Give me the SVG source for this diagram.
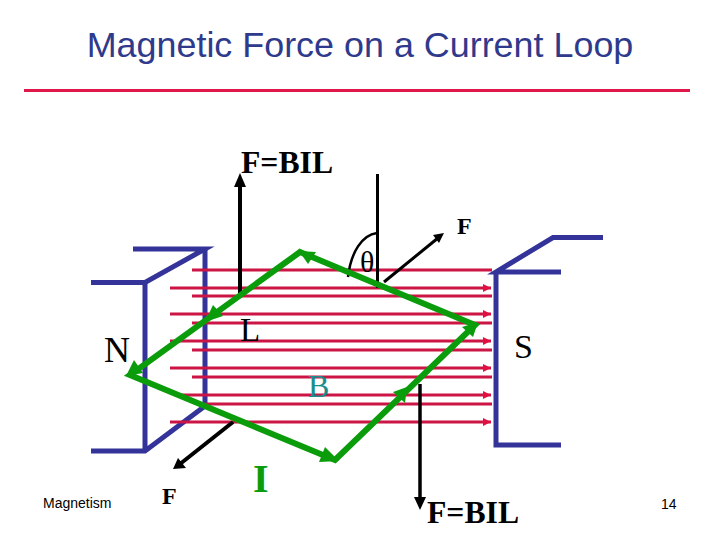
<svg xmlns="http://www.w3.org/2000/svg" width="720" height="540" viewBox="0 0 720 540">
<style>
text{font-family:"Liberation Serif","Times New Roman",serif;fill:#000}
.sans{font-family:"Liberation Sans",Arial,sans-serif}
.red{stroke:#cc1544;stroke-width:3;fill:none}
.blue{stroke:#333399;stroke-width:5;fill:none;stroke-linejoin:miter}
.green{stroke:#0b9c0b;stroke-width:6;fill:none}
.gh{fill:#0b9c0b}
.blk{stroke:#000;fill:none}
</style>
<defs>
<marker id="ra" markerUnits="userSpaceOnUse" markerWidth="8" markerHeight="8" refX="8" refY="4" orient="auto"><path d="M0 0L8 4L0 8z" fill="#e01040"/></marker>
</defs>
<rect width="720" height="540" fill="#fff"/>
<g id="title"><text class="sans" x="360" y="57" font-size="35.900" text-anchor="middle" style="fill:#2f3a8c">Magnetic Force on a Current Loop</text><line x1="24" y1="90.500" x2="690" y2="90.500" stroke="#e0184a" stroke-width="3"/></g>
<g id="magnet-n">
<path class="blue" d="M91 282.500H145L205 249H133"/>
<path class="blue" d="M145 282V451M205 249V406M91 451H145L205 406"/>
</g>
<g id="magnet-s">
<path class="blue" d="M603 237.500H553L496 272H561M496 272V445H561"/>
</g>
<g id="field">
<path class="red" d="M192 270H492M192 296H492M192 323H492M192 350H492M192 377H492M205 404H492"/>
<g class="red"><line x1="170" y1="288" x2="491" y2="288" marker-end="url(#ra)"/><line x1="170" y1="314" x2="491" y2="314" marker-end="url(#ra)"/><line x1="170" y1="341" x2="491" y2="341" marker-end="url(#ra)"/><line x1="170" y1="368" x2="491" y2="368" marker-end="url(#ra)"/><line x1="182" y1="395" x2="491" y2="395" marker-end="url(#ra)"/><line x1="170" y1="422" x2="491" y2="422" marker-end="url(#ra)"/></g>
</g>
<g id="connectors">
<path class="blk" stroke-width="4" d="M240 293V185"/><path d="M240 173L246 187H234z"/>
<path class="blk" stroke-width="3" d="M377.500 174V288"/>
<path class="blk" stroke-width="2.500" d="M348 277C351 252 362 235 377 233"/>
<path class="blk" stroke-width="3" d="M384 282L438 238"/><path d="M444 233L439 243L433 235z"/>
<path class="blk" stroke-width="4" d="M233 422L180 464"/><path d="M173 469L178 458L186 468z"/>
<path class="blk" stroke-width="3.500" d="M420 384V498"/><path d="M420 510L414 497H426z"/>
</g>
<g id="loop">
<path class="green" stroke-linejoin="miter" d="M300 252L475 325L335 460L130 375z"/>
<path class="gh" d="M299 251L316 252L308 264z"/>
<path class="gh" d="M205 322L223 316L213 305z"/>
<path class="gh" d="M126 376L134 360L143 373z"/>
<path class="gh" d="M339 461L319 462L325 447z"/>
<path class="gh" d="M478 322L473 337L462 327z"/>
<path class="gh" d="M407 387L405 403L393 392z"/>
</g>
<g id="labels">
<text x="241" y="173" font-size="31.700" font-weight="bold">F=BIL</text>
<text x="427" y="523" font-size="31.700" font-weight="bold">F=BIL</text>
<text x="457" y="234" font-size="24" font-weight="bold">F</text>
<text x="162" y="504" font-size="24" font-weight="bold">F</text>
<text x="360" y="272" font-size="30">θ</text>
<text x="104" y="362" font-size="36">N</text>
<text x="514" y="358" font-size="34">S</text>
<text x="240" y="341" font-size="33">L</text>
<text x="308" y="397" font-size="32" style="fill:#1c8c8c">B</text>
<text x="253" y="492" font-size="40" font-weight="bold" style="fill:#0b9c0b">I</text>
<text class="sans" x="43" y="508" font-size="14">Magnetism</text>
<text class="sans" x="661" y="509" font-size="14">14</text>
</g>
</svg>
